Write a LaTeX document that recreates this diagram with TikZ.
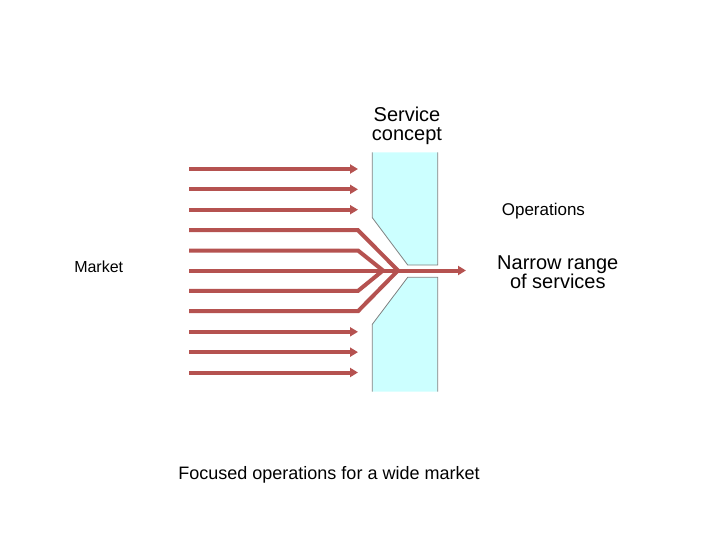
\documentclass[tikz,border=0pt]{standalone}
\usepackage{fontspec}
\setmainfont{Liberation Sans}
\usetikzlibrary{arrows.meta}
\definecolor{flowred}{RGB}{181,82,80}
\definecolor{opscyan}{RGB}{204,255,255}
\definecolor{opsedge}{RGB}{128,128,128}

\begin{document}
\begin{tikzpicture}[x=1pt,y=-1pt,
    flow/.style={flowred,line width=4pt},
    flowarrow/.style={flow,-{Triangle[length=8pt,width=9pt]}},
    wall/.style={opsedge,line width=0.8pt},
    lbl/.style={inner sep=0pt,anchor=base,align=center}]
    \useasboundingbox (0,0) rectangle (720,540);
    % operations block (top and bottom half)
    \fill[opscyan] (372.3,152.5)--(372.3,217.7)--(407.7,265)--(437.7,265)--(437.7,152.5)--cycle;
    \fill[opscyan] (372.3,391.5)--(372.3,324.3)--(407.7,277.3)--(437.7,277.3)--(437.7,391.5)--cycle;
    \draw[wall] (372.3,152.5)--(372.3,217.7)--(407.7,265)--(437.7,265)--(437.7,152.5);
    \draw[wall] (372.3,391.5)--(372.3,324.3)--(407.7,277.3)--(437.7,277.3)--(437.7,391.5);
    % market arrows
    \foreach \i in {0,1,2,8,9,10}
        \draw[flowarrow] (189,169+20.35*\i)--(358,169+20.35*\i);
    \coordinate (inner) at (383,270.5);
    \coordinate (outer) at (398,270.5);
    \draw[flow] (189,230.2)--(358,230.2)--(outer);
    \draw[flow] (189,250.5)--(358,250.5)--(inner);
    \draw[flow] (189,290.9)--(358,290.9)--(inner);
    \draw[flow] (189,311.2)--(358,311.2)--(outer);
    \draw[flowarrow] (189,270.5)--(466,270.5);
    % labels
    \node[lbl,font=\fontsize{20}{19}\selectfont] (concept) at (407,141) {Service\\concept};
    \node[lbl,font=\fontsize{17}{19}\selectfont] (ops) at (543.4,215.7) {Operations};
    \node[lbl,font=\fontsize{20}{19}\selectfont] (narrow) at (557.8,288.5) {Narrow range\\of services};
    \node[lbl,font=\fontsize{16}{19}\selectfont] (market) at (98.7,272.7) {Market};
    \node[lbl,font=\fontsize{18}{19}\selectfont] (caption) at (329,479.3) {Focused operations for a wide market};
\end{tikzpicture}
\end{document}
